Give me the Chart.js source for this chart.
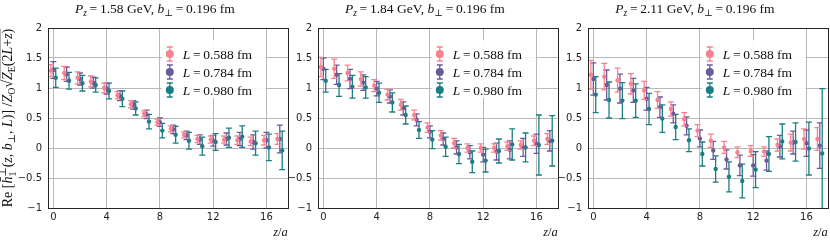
<!DOCTYPE html>
<html>
<head>
<meta charset="utf-8">
<script src="https://cdn.jsdelivr.net/npm/chart.js@4.4.1/dist/chart.umd.min.js"></script>
<style>
  html, body { margin: 0; padding: 0; background: #ffffff; }
  #wrap { position: relative; width: 830px; height: 242px; overflow: hidden; }
  .panel { position: absolute; top: 0; width: 290px; height: 242px; }
</style>
</head>
<body>
<div id="wrap">
  <canvas id="panel0" class="panel" width="290" height="242" style="left:0px"></canvas>
  <canvas id="panel1" class="panel" width="290" height="242" style="left:270px"></canvas>
  <canvas id="panel2" class="panel" width="290" height="242" style="left:540px"></canvas>
</div>
<script>

// =========================
// DATA
// =========================

const zSteps = [0, 1, 2, 3, 4, 5, 6, 7, 8, 9, 10, 11, 12, 13, 14, 15, 16, 17];

const xTicks = [0, 4, 8, 12, 16];
const yTicks = [-1, -0.5, 0, 0.5, 1, 1.5, 2];
const yTickLabels = ["\u22121", "\u22120.5", "0", "0.5", "1", "1.5", "2"];

const momenta = ["1.58", "1.84", "2.11"];
const bPerp = "0.196";
const lengthLabels = ["0.588", "0.784", "0.980"];

// Pz = 1.58 GeV
const re158L588 = [1.29, 1.25, 1.17, 1.11, 1.00, 0.88, 0.73, 0.57, 0.43, 0.32, 0.22, 0.15, 0.14, 0.14, 0.13, 0.11, 0.13, 0.15];
const err158L588 = [0.10, 0.11, 0.10, 0.09, 0.08, 0.06, 0.06, 0.05, 0.05, 0.05, 0.05, 0.06, 0.06, 0.06, 0.07, 0.07, 0.08, 0.09];
const re158L784 = [1.30, 1.23, 1.15, 1.09, 0.99, 0.87, 0.72, 0.56, 0.43, 0.31, 0.21, 0.14, 0.12, 0.15, 0.15, 0.10, 0.13, 0.15];
const err158L784 = [0.14, 0.12, 0.10, 0.09, 0.09, 0.08, 0.07, 0.07, 0.07, 0.07, 0.07, 0.08, 0.09, 0.10, 0.11, 0.12, 0.13, 0.23];
const re158L980 = [1.17, 1.12, 1.08, 1.05, 0.95, 0.82, 0.66, 0.44, 0.29, 0.22, 0.12, 0.03, 0.10, 0.17, 0.19, 0.08, 0.01, -0.04];
const err158L980 = [0.16, 0.14, 0.13, 0.12, 0.13, 0.13, 0.11, 0.12, 0.12, 0.14, 0.14, 0.15, 0.14, 0.16, 0.18, 0.20, 0.22, 0.32];

// Pz = 1.84 GeV
const re184L588 = [1.35, 1.32, 1.25, 1.15, 1.04, 0.89, 0.72, 0.55, 0.34, 0.21, 0.08, 0.00, 0.00, 0.00, 0.03, 0.05, 0.12, 0.15];
const err184L588 = [0.16, 0.16, 0.13, 0.12, 0.10, 0.09, 0.09, 0.08, 0.08, 0.08, 0.08, 0.07, 0.07, 0.07, 0.07, 0.07, 0.08, 0.09];
const re184L784 = [1.32, 1.22, 1.15, 1.09, 0.99, 0.86, 0.66, 0.47, 0.27, 0.15, 0.01, -0.07, -0.11, -0.06, -0.03, 0.01, 0.07, 0.12];
const err184L784 = [0.18, 0.16, 0.16, 0.13, 0.12, 0.11, 0.11, 0.10, 0.10, 0.10, 0.11, 0.11, 0.12, 0.14, 0.15, 0.15, 0.16, 0.17];
const re184L980 = [1.12, 1.05, 1.02, 1.01, 0.92, 0.76, 0.55, 0.30, 0.14, 0.02, -0.10, -0.23, -0.21, -0.05, 0.06, 0.01, 0.05, 0.12];
const err184L980 = [0.19, 0.19, 0.19, 0.18, 0.16, 0.16, 0.15, 0.14, 0.15, 0.16, 0.16, 0.18, 0.19, 0.20, 0.26, 0.24, 0.50, 0.42];

// Pz = 2.11 GeV
const re211L588 = [1.22, 1.19, 1.13, 1.07, 0.96, 0.80, 0.65, 0.48, 0.29, 0.12, 0.01, -0.07, -0.05, -0.06, 0.05, 0.09, 0.15, 0.15];
const err211L588 = [0.24, 0.22, 0.20, 0.17, 0.15, 0.14, 0.12, 0.11, 0.10, 0.11, 0.10, 0.09, 0.09, 0.08, 0.10, 0.14, 0.17, 0.19];
const re211L784 = [1.15, 1.05, 0.99, 0.96, 0.82, 0.68, 0.57, 0.37, 0.16, -0.04, -0.19, -0.29, -0.29, -0.21, 0.03, 0.09, 0.08, 0.04];
const err211L784 = [0.27, 0.25, 0.24, 0.20, 0.19, 0.17, 0.15, 0.15, 0.14, 0.15, 0.16, 0.17, 0.18, 0.16, 0.18, 0.19, 0.22, 0.38];
const re211L980 = [0.89, 0.80, 0.79, 0.79, 0.65, 0.49, 0.35, 0.13, -0.10, -0.35, -0.48, -0.55, -0.36, -0.10, 0.11, 0.10, -0.01, -0.09];
const err211L980 = [0.30, 0.30, 0.30, 0.28, 0.26, 0.23, 0.21, 0.19, 0.20, 0.22, 0.25, 0.28, 0.30, 0.29, 0.29, 0.32, 0.44, 1.08];


// =========================
// STYLE
// =========================

const seriesColors = ["#f7828f", "#6b5b9b", "#1a7f80"];
const dodge = [-0.18, 0, 0.18];
const serif = '"Liberation Serif", "DejaVu Serif", serif';
const gridColor = "#b8b8b8";

const panels = [
  { momentum: momenta[0], series: [[re158L588, err158L588], [re158L784, err158L784], [re158L980, err158L980]] },
  { momentum: momenta[1], series: [[re184L588, err184L588], [re184L784, err184L784], [re184L980, err184L980]] },
  { momentum: momenta[2], series: [[re211L588, err211L588], [re211L784, err211L784], [re211L980, err211L980]] }
];


// =========================
// RICH TEXT (sub / sup / italic)
// =========================

function partFont(p, size) {
  const s = (p.sh ? size * 0.7 : size);
  return (p.it ? "italic " : "") + s.toFixed(1) + "px " + serif;
}

function partWidth(ctx, p, size) {
  if(p.stack) {
    ctx.font = (size * 0.7).toFixed(1) + "px " + serif;
    return Math.max(
      ctx.measureText(p.stack[0]).width,
      ctx.measureText(p.stack[1]).width
    );
  }
  ctx.font = partFont(p, size);
  return ctx.measureText(p.t).width;
}

function drawRich(ctx, parts, x, y, size, align) {

  const widths = parts.map(p => partWidth(ctx, p, size));
  const total = widths.reduce((a, b) => a + b, 0);

  let cx = x;
  if(align === "center") cx = x - total / 2;
  if(align === "right") cx = x - total;

  ctx.textAlign = "left";
  ctx.textBaseline = "alphabetic";

  let ovStart = null;
  let ovEnd = null;

  parts.forEach((p, i) => {

    if(p.stack) {
      ctx.font = (size * 0.7).toFixed(1) + "px " + serif;
      ctx.fillText(p.stack[0], cx, y - size * 0.42);
      ctx.fillText(p.stack[1], cx, y + size * 0.25);
    } else {
      ctx.font = partFont(p, size);
      let dy = 0;
      if(p.sh === "sub") dy = size * 0.22;
      if(p.sh === "sup") dy = -size * 0.42;
      ctx.fillText(p.t, cx, y + dy);
    }

    if(p.ov) {
      if(ovStart === null) ovStart = cx;
      ovEnd = cx + widths[i];
    }

    cx += widths[i];
  });

  if(ovStart !== null) {
    ctx.save();
    ctx.lineWidth = 0.7;
    ctx.beginPath();
    ctx.moveTo(ovStart - 1, y - size * 0.86);
    ctx.lineTo(ovEnd, y - size * 0.86);
    ctx.stroke();
    ctx.restore();
  }

}


// =========================
// PLUGINS
// =========================

const errorBarPlugin = {

  id: "errorBars",

  beforeDatasetDraw(chart, args) {

    const ds = chart.data.datasets[args.index];
    const xs = chart.scales.x;
    const ys = chart.scales.y;
    const area = chart.chartArea;
    const ctx = chart.ctx;

    ctx.save();
    ctx.beginPath();
    ctx.rect(area.left, area.top, area.width, area.height);
    ctx.clip();

    ctx.strokeStyle = ds.barColor;
    ctx.lineWidth = 1.3;

    ds.data.forEach((p, i) => {

      const e = ds.errors[i];
      const px = xs.getPixelForValue(p.x);
      const top = ys.getPixelForValue(p.y + e);
      const bot = ys.getPixelForValue(p.y - e);

      ctx.beginPath();
      ctx.moveTo(px, top);
      ctx.lineTo(px, bot);
      ctx.moveTo(px - 3, top);
      ctx.lineTo(px + 3, top);
      ctx.moveTo(px - 3, bot);
      ctx.lineTo(px + 3, bot);
      ctx.stroke();

    });

    ctx.restore();

  }

};


const decorPlugin = {

  id: "panelDecor",

  afterDatasetsDraw(chart) {

    const ctx = chart.ctx;
    const a = chart.chartArea;

    // legend box
    ctx.save();
    ctx.fillStyle = "rgba(255,255,255,0.9)";
    ctx.fillRect(a.right - 126, a.top + 12, 104, 58);

    chart.data.datasets.forEach((ds, k) => {

      const ly = a.top + 26 + k * 18;
      const mx = a.right - 118;

      ctx.strokeStyle = ds.barColor;
      ctx.fillStyle = ds.barColor;
      ctx.lineWidth = 1.3;

      ctx.beginPath();
      ctx.moveTo(mx, ly - 7);
      ctx.lineTo(mx, ly + 7);
      ctx.moveTo(mx - 3, ly - 7);
      ctx.lineTo(mx + 3, ly - 7);
      ctx.moveTo(mx - 3, ly + 7);
      ctx.lineTo(mx + 3, ly + 7);
      ctx.stroke();

      ctx.beginPath();
      ctx.arc(mx, ly, 4, 0, Math.PI * 2);
      ctx.fill();

      ctx.fillStyle = "#111";
      drawRich(
        ctx,
        [
          { t: "L", it: true },
          { t: "\u2009=\u2009" + ds.lengthLabel + " fm" }
        ],
        a.right - 105,
        ly + 4.5,
        13.5,
        "left"
      );

    });

    ctx.restore();

  },

  afterDraw(chart, args, opts) {

    const ctx = chart.ctx;
    const a = chart.chartArea;

    // frame
    ctx.save();
    ctx.strokeStyle = "#262626";
    ctx.lineWidth = 1;
    ctx.strokeRect(
      Math.round(a.left) + 0.5,
      Math.round(a.top) + 0.5,
      Math.round(a.width),
      Math.round(a.height)
    );

    ctx.fillStyle = "#111";
    ctx.strokeStyle = "#111";

    // title
    drawRich(
      ctx,
      [
        { t: "P", it: true },
        { t: "z", it: true, sh: "sub" },
        { t: "\u2009=\u2009" + opts.momentum + " GeV, " },
        { t: "b", it: true },
        { t: "\u22a5", sh: "sub" },
        { t: "\u2009=\u2009" + bPerp + " fm" }
      ],
      (a.left + a.right) / 2 - 13,
      13,
      13.5,
      "center"
    );

    // x label
    drawRich(
      ctx,
      [
        { t: "z", it: true },
        { t: "/" },
        { t: "a", it: true }
      ],
      a.right,
      236,
      12.5,
      "right"
    );

    // y label (first panel only)
    if(opts.yLabel) {
      ctx.save();
      ctx.translate(12, (a.top + a.bottom) / 2);
      ctx.rotate(-Math.PI / 2);
      drawRich(
        ctx,
        [
          { t: "Re " },
          { t: "[" },
          { t: "h\u0304", it: true },
          { stack: ["\u22a5", "1"] },
          { t: "(" },
          { t: "z", it: true },
          { t: ", " },
          { t: "b", it: true },
          { t: "\u22a5", sh: "sub" },
          { t: ", " },
          { t: "L", it: true },
          { t: ")]" },
          { t: " /" },
          { t: "Z", it: true },
          { t: "O", sh: "sub" },
          { t: "\u221a" },
          { t: "Z", it: true, ov: true },
          { t: "E", sh: "sub", ov: true },
          { t: "(2", ov: true },
          { t: "L", it: true, ov: true },
          { t: "+", ov: true },
          { t: "z", it: true, ov: true },
          { t: ")", ov: true }
        ],
        0,
        0,
        14,
        "center"
      );
      ctx.restore();
    }

    ctx.restore();

  }

};


// =========================
// BUILD PANELS
// =========================

function buildPanel(index) {

  const panel = panels[index];
  const canvas = document.getElementById("panel" + index);

  const datasets = panel.series.map(
    (s, k) => ({
      label: "L = " + lengthLabels[k] + " fm",
      lengthLabel: lengthLabels[k],
      data: zSteps.map((z, i) => ({ x: z + dodge[k], y: s[0][i] })),
      errors: s[1],
      barColor: seriesColors[k],
      pointRadius: 2.2,
      pointHoverRadius: 2.2,
      pointBorderWidth: 0,
      pointBackgroundColor: seriesColors[k],
      showLine: false
    })
  );

  const tickFont = { family: '"DejaVu Sans", sans-serif', size: 10 };

  new Chart(canvas, {

    type: "scatter",

    data: { datasets },

    options: {

      responsive: false,
      animation: false,
      events: [],

      layout: {
        padding: { left: 0, top: 28, right: 2, bottom: 0 }
      },

      plugins: {
        legend: { display: false },
        tooltip: { enabled: false },
        panelDecor: {
          momentum: panel.momentum,
          yLabel: index === 0
        }
      },

      scales: {

        x: {
          type: "linear",
          min: -0.4,
          max: 17.6,
          afterBuildTicks: scale => {
            scale.ticks = xTicks.map(v => ({ value: v }));
          },
          afterFit: scale => {
            scale.height = 34;
          },
          grid: { color: gridColor, lineWidth: 1, drawTicks: false },
          border: { display: false },
          ticks: {
            padding: 3,
            color: "#222",
            font: tickFont,
            maxRotation: 0,
            callback: v => String(v)
          }
        },

        y: {
          type: "linear",
          min: -1,
          max: 2,
          afterBuildTicks: scale => {
            scale.ticks = yTicks.map(v => ({ value: v }));
          },
          afterFit: scale => {
            scale.width = 48;
          },
          grid: { color: gridColor, lineWidth: 1, drawTicks: false },
          border: { display: false },
          ticks: {
            padding: 6,
            color: "#222",
            font: tickFont,
            callback: v => yTickLabels[yTicks.indexOf(v)]
          }
        }

      }

    },

    plugins: [errorBarPlugin, decorPlugin]

  });

}

buildPanel(0);
buildPanel(1);
buildPanel(2);

</script>
</body>
</html>
